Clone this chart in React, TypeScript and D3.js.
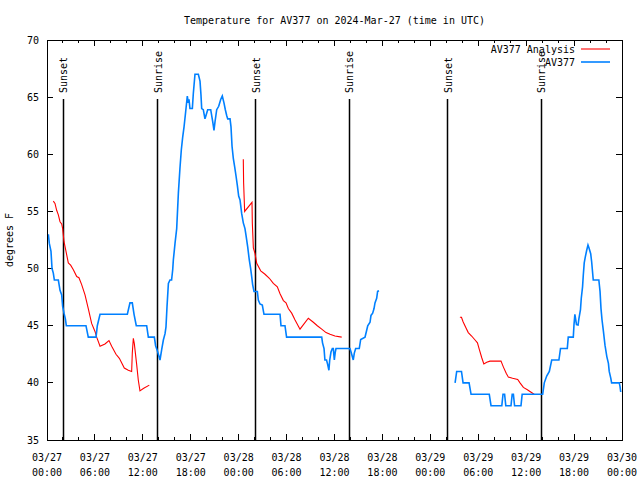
import React from "react";
import * as d3 from "d3";

// ---- data (hours since 2024-03-27 00:00 UTC, temperature °F) ----
const analysisSeg1: [number, number][] = [
  [0.79, 55.9], [1.0, 55.7], [1.21, 55.1], [1.42, 54.7], [1.63, 54.1], [1.84, 53.9], [1.96, 53.5],
  [2.13, 52.35], [2.38, 51.5], [2.67, 50.5], [2.96, 50.3], [3.3, 49.9], [3.72, 49.3], [4.0, 49.2],
  [4.34, 48.6], [4.76, 47.7], [5.17, 46.5], [5.59, 45.2], [6.01, 44.5], [6.22, 44.0], [6.64, 43.2],
  [7.26, 43.4], [7.76, 43.7], [8.1, 43.2], [8.64, 42.5], [9.06, 42.15], [9.68, 41.3], [10.18, 41.1],
  [10.6, 41.0], [10.68, 42.6], [10.81, 43.9], [10.93, 43.45], [11.23, 41.6], [11.43, 40.25],
  [11.64, 39.3], [12.06, 39.5], [12.81, 39.8],
];
const analysisSeg2: [number, number][] = [
  [24.58, 59.56], [24.62, 57.5], [24.75, 55.0], [25.67, 55.8], [25.71, 54.0], [25.84, 51.8],
  [26.05, 51.3], [26.26, 50.46], [26.76, 49.8], [27.3, 49.5], [27.84, 49.15], [28.34, 48.7],
  [28.84, 48.4], [29.18, 47.8], [29.6, 47.2], [29.93, 47.0], [30.22, 46.5], [30.64, 46.1],
  [31.06, 45.5], [31.68, 44.7], [32.72, 45.65], [33.35, 45.3], [33.85, 45.0], [34.4, 44.7],
  [34.94, 44.4], [35.44, 44.25], [36.06, 44.1], [36.9, 44.0],
];
const analysisSeg3: [number, number][] = [
  [51.7, 45.74], [51.9, 45.74], [52.1, 45.35], [52.47, 44.8], [52.75, 44.4], [53.17, 44.1],
  [53.6, 43.75], [53.9, 43.5], [54.14, 42.9], [54.44, 42.2], [54.7, 41.65], [55.06, 41.8],
  [55.47, 41.9], [56.85, 41.9], [57.14, 41.4], [57.5, 40.85], [57.77, 40.5], [58.3, 40.4],
  [58.94, 40.3], [59.23, 40.0], [59.65, 39.6], [60.15, 39.4], [60.57, 39.2], [61.0, 39.0],
];
const observedSeg1: [number, number][] = [
  [0.17, 53.0], [0.29, 52.2], [0.5, 51.5], [0.63, 50.0], [0.79, 49.6], [0.92, 49.0], [1.42, 49.0],
  [1.63, 48.1], [1.84, 47.7], [1.96, 46.7], [2.13, 46.1], [2.3, 45.6], [2.42, 45.0], [4.88, 45.0],
  [5.17, 44.0], [6.14, 44.0], [6.3, 45.0], [6.64, 46.0], [10.06, 46.0], [10.39, 47.0], [10.68, 47.0],
  [10.9, 46.0], [11.18, 45.0], [12.48, 45.0], [12.69, 44.0], [13.44, 44.0], [13.6, 43.25],
  [13.82, 42.8], [14.15, 42.0], [14.36, 42.9], [14.57, 43.75], [14.78, 44.3], [14.9, 44.9],
  [15.03, 46.7], [15.2, 48.7], [15.4, 49.0], [15.6, 49.0], [15.74, 49.9], [15.82, 50.75],
  [16.03, 52.2], [16.24, 53.5], [16.45, 56.6], [16.65, 58.8], [16.82, 60.4], [16.99, 61.5],
  [17.16, 62.4], [17.36, 63.7], [17.57, 65.1], [17.69, 64.5], [17.78, 64.8], [17.9, 64.0],
  [18.2, 64.0], [18.32, 65.3], [18.53, 67.0], [18.95, 67.0], [19.16, 66.4], [19.28, 65.2],
  [19.37, 64.0], [19.57, 63.9], [19.78, 63.1], [19.91, 63.4], [20.12, 63.9], [20.5, 63.9],
  [20.75, 62.85], [20.91, 62.1], [21.04, 62.85], [21.25, 63.9], [21.5, 64.2], [21.75, 64.8],
  [21.95, 65.1], [22.16, 64.5], [22.33, 63.9], [22.5, 63.4], [22.63, 63.1], [22.92, 63.1],
  [23.04, 62.4], [23.17, 60.7], [23.33, 59.65], [23.5, 58.9], [23.67, 58.1], [23.83, 57.3],
  [24.0, 56.35], [24.17, 56.0], [24.38, 54.8], [24.58, 54.0], [24.79, 53.5], [24.92, 52.9],
  [25.13, 51.9], [25.33, 50.75], [25.5, 50.0], [25.63, 49.3], [25.75, 48.6], [25.92, 48.0],
  [26.34, 48.0], [26.46, 47.25], [26.67, 46.9], [26.96, 46.8], [27.17, 46.0], [29.18, 46.0],
  [29.3, 45.0], [29.8, 45.0], [30.0, 44.0], [34.4, 44.0], [34.5, 43.5], [34.69, 43.0],
  [34.8, 42.0], [35.0, 42.0], [35.15, 41.6], [35.3, 41.1], [35.4, 42.0], [35.56, 42.7],
  [35.73, 43.0], [35.85, 43.0], [35.98, 42.0], [36.1, 42.7], [36.19, 43.0], [37.94, 43.0],
  [38.07, 42.7], [38.23, 42.3], [38.35, 42.0], [38.48, 42.6], [38.65, 43.0], [39.1, 43.0],
  [39.28, 43.8], [39.82, 44.0], [40.03, 44.6], [40.16, 45.0], [40.45, 45.3], [40.57, 45.9],
  [40.78, 46.1], [40.95, 46.5], [41.07, 47.0], [41.28, 47.4], [41.4, 48.0], [41.57, 48.05],
];
const observedSeg2: [number, number][] = [
  [51.1, 40.0], [51.3, 41.0], [51.9, 41.0], [52.1, 40.0], [52.85, 40.0], [53.1, 39.0],
  [55.38, 39.0], [55.6, 38.0], [56.95, 38.0], [57.1, 39.0], [57.3, 39.0], [57.45, 38.0],
  [58.1, 38.0], [58.25, 39.0], [58.4, 39.0], [58.55, 38.0], [59.35, 38.0], [59.5, 39.0],
  [62.07, 39.0], [62.27, 40.0], [62.57, 40.6], [62.9, 41.0], [63.2, 42.0], [64.1, 42.0],
  [64.3, 43.0], [65.15, 43.0], [65.27, 44.0], [65.9, 44.0], [65.99, 45.1], [66.1, 46.0],
  [66.3, 45.1], [66.5, 45.06], [66.6, 45.6], [66.8, 46.4], [66.9, 47.4], [67.06, 48.4],
  [67.15, 49.4], [67.27, 50.5], [67.4, 51.0], [67.58, 51.6], [67.74, 52.06], [67.87, 51.8],
  [68.08, 51.3], [68.2, 50.6], [68.4, 49.0], [69.1, 49.0], [69.25, 48.0], [69.37, 46.5],
  [69.5, 45.5], [69.66, 44.6], [69.87, 43.3], [70.1, 42.3], [70.3, 41.7], [70.4, 41.0],
  [70.6, 40.4], [70.7, 40.0], [71.66, 40.0], [71.75, 39.7], [71.84, 39.2],
];
const sunEventHours = [2.0, 13.8, 26.05, 37.8, 50.1, 61.85];
const sunEventLabels = ["Sunset", "Sunrise", "Sunset", "Sunrise", "Sunset", "Sunrise"];
const xTickHours = [0, 6, 12, 18, 24, 30, 36, 42, 48, 54, 60, 66, 72];
const xTickDates = ["03/27", "03/27", "03/27", "03/27", "03/28", "03/28", "03/28", "03/28", "03/29", "03/29", "03/29", "03/29", "03/30"];
const xTickTimes = ["00:00", "06:00", "12:00", "18:00", "00:00", "06:00", "12:00", "18:00", "00:00", "06:00", "12:00", "18:00", "00:00"];
const yTicks = [35, 40, 45, 50, 55, 60, 65, 70];
const titleText = "Temperature for AV377 on 2024-Mar-27 (time in UTC)";
const yLabel = "degrees F";
const seriesNames = ["AV377 Analysis", "AV377"];
const seriesColors = ["#ff0000", "#0080ff"];

const W = 640, H = 480;
const L = 47, R = 622, T = 40, B = 440;
const FONT = "'DejaVu Sans Mono', 'Liberation Mono', monospace";

export default function App() {
  const x = d3.scaleLinear().domain([0, 72]).range([L, R]);
  const y = d3.scaleLinear().domain([35, 70]).range([B, T]);
  const line = d3.line<[number, number]>().x(d => x(d[0])).y(d => y(d[1]));
  const minorHours = d3.range(0, 73, 2).filter(h => h % 6 !== 0);

  return (
    <svg width={W} height={H} style={{ position: "absolute", left: 0, top: 0, background: "#fff" }}
      fontFamily={FONT} fontSize={10}>
      <rect x={0} y={0} width={W} height={H} fill="#fff" />
      <text x={(L + R) / 2} y={24} textAnchor="middle">{titleText}</text>
      <text transform={`translate(13,${(T + B) / 2}) rotate(-90)`} textAnchor="middle">{yLabel}</text>

      {/* ticks */}
      <g stroke="#000" strokeWidth={1} shapeRendering="crispEdges">
        {yTicks.map(v => (
          <g key={"y" + v}>
            <line x1={L} x2={L + 6} y1={y(v)} y2={y(v)} />
            <line x1={R} x2={R - 6} y1={y(v)} y2={y(v)} />
          </g>
        ))}
        {xTickHours.map(h => (
          <g key={"x" + h}>
            <line x1={x(h)} x2={x(h)} y1={B} y2={B - 6} />
            <line x1={x(h)} x2={x(h)} y1={T} y2={T + 6} />
          </g>
        ))}
        {minorHours.map(h => (
          <g key={"m" + h}>
            <line x1={x(h)} x2={x(h)} y1={B} y2={B - 3} />
            <line x1={x(h)} x2={x(h)} y1={T} y2={T + 3} />
          </g>
        ))}
      </g>
      {yTicks.map(v => (
        <text key={"yl" + v} x={L - 8} y={y(v)} textAnchor="end" dominantBaseline="central">{v}</text>
      ))}
      {xTickHours.map((h, i) => (
        <g key={"xl" + h}>
          <text x={x(h)} y={461} textAnchor="middle">{xTickDates[i]}</text>
          <text x={x(h)} y={476} textAnchor="middle">{xTickTimes[i]}</text>
        </g>
      ))}

      {/* sunrise / sunset */}
      {sunEventHours.map((h, i) => (
        <g key={"s" + i}>
          <line x1={Math.round(x(h)) + 0.5} x2={Math.round(x(h)) + 0.5} y1={99} y2={B} stroke="#000" strokeWidth={1.5} />
          <text transform={`translate(${x(h) + 1},93) rotate(-90)`} textAnchor="start" dominantBaseline="central">{sunEventLabels[i]}</text>
        </g>
      ))}

      {/* data */}
      {[analysisSeg1, analysisSeg2, analysisSeg3].map((s, i) => (
        <path key={"a" + i} d={line(s) || ""} fill="none" stroke={seriesColors[0]} strokeWidth={1.1} />
      ))}
      {[observedSeg1, observedSeg2].map((s, i) => (
        <path key={"o" + i} d={line(s) || ""} fill="none" stroke={seriesColors[1]} strokeWidth={1.6} />
      ))}

      {/* legend */}
      {seriesNames.map((n, i) => (
        <g key={"lg" + i}>
          <text x={575} y={49 + i * 13} textAnchor="end" dominantBaseline="central">{n}</text>
          <line x1={581} x2={610} y1={49 + i * 13} y2={49 + i * 13} stroke={seriesColors[i]} strokeWidth={i === 0 ? 1.1 : 1.6} />
        </g>
      ))}

      <rect x={L} y={T} width={R - L} height={B - T} fill="none" stroke="#000" strokeWidth={1} shapeRendering="crispEdges" />
    </svg>
  );
}
